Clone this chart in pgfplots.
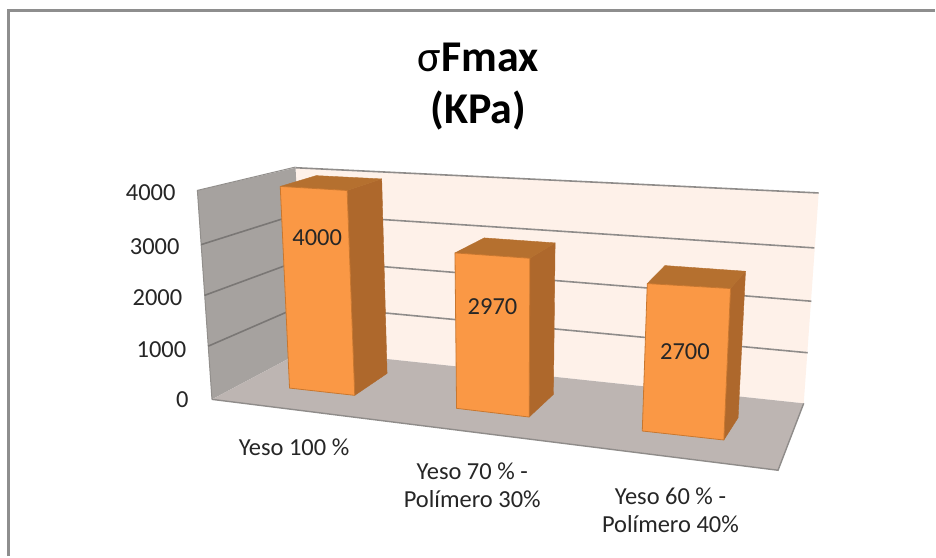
\documentclass[border=0pt]{standalone}
\usepackage{pgfplots}
\pgfplotsset{compat=1.18}
\usepackage{pgfplotstable}
\usepackage{fontspec}
\setmainfont{Carlito}

\definecolor{barfront}{HTML}{FA9845}
\definecolor{barside}{HTML}{AE682C}
\definecolor{bartop}{HTML}{B5702F}
\definecolor{baredge}{HTML}{C8772F}
\definecolor{wallleft}{HTML}{A6A29F}
\definecolor{wallback}{HTML}{FEF1E9}
\definecolor{floorfill}{HTML}{BDB5B2}
\definecolor{gridline}{HTML}{8F8C8A}
\definecolor{framegray}{HTML}{8E8E8E}
\definecolor{labelink}{HTML}{262626}

% Every corner is given by its screen column, its floor row, its height in kPa
% and the height scale that holds at that corner of the 3-D view.
\pgfplotstableread{
px    base  kPa  k
212.3 400   0    0.0523
197.7 400   4000 0.0523
296   350.8 4000 0.0457
305   350.8 0    0.0457
}\wallLeft
\pgfplotstableread{
px    base  kPa  k
305   350.8 0    0.0457
296   350.8 4000 0.0457
820   404   4000 0.05268
805   404   0    0.05268
}\wallBack
\pgfplotstableread{
px    base  kPa  k
212.3 400   0    0.0523
305   350.8 0    0.0457
805   404   0    0.05268
779.3 471   0    0.0560
}\floorPlane

% Yeso 100 %
\pgfplotstableread{
px    base  kPa  k
290   388.7 0    0.0505
355.3 396   0    0.0513
347.7 396   4000 0.0513
280.7 388.7 4000 0.0505
}\barAfront
\pgfplotstableread{
px    base  kPa  k
355.3 396   0    0.0513
387.7 374   0    0.0487
382.3 374   4000 0.0487
347.7 396   4000 0.0513
}\barAside
\pgfplotstableread{
px    base  kPa  k
280.7 388.7 4000 0.0505
347.7 396   4000 0.0513
382.3 374   4000 0.0487
316.7 370.7 4000 0.0487
}\barAtop

% Yeso 70 % - Polimero 30 %
\pgfplotstableread{
px    base  kPa  k
457.3 409   0    0.05242
530   417.7 0    0.05354
530.7 417.7 2970 0.05354
455.7 409   2970 0.05242
}\barBfront
\pgfplotstableread{
px    base  kPa  k
530   417.7 0    0.05354
554.3 395   0    0.05108
556   395   2970 0.05108
530.7 417.7 2970 0.05354
}\barBside
\pgfplotstableread{
px    base  kPa  k
455.7 409   2970 0.05242
530.7 417.7 2970 0.05354
556   395   2970 0.05108
485   390   2970 0.05108
}\barBtop

% Yeso 60 % - Polimero 40 %
\pgfplotstableread{
px    base  kPa  k
643.3 431.7 0    0.0547
725   440.7 0    0.05619
731.7 440.7 2700 0.05619
648.3 431.7 2700 0.0547
}\barCfront
\pgfplotstableread{
px    base  kPa  k
725   440.7 0    0.05619
739.3 418.3 0    0.0543
746.7 418.3 2700 0.0543
731.7 440.7 2700 0.05619
}\barCside
\pgfplotstableread{
px    base  kPa  k
648.3 431.7 2700 0.0547
731.7 440.7 2700 0.05619
746.7 418.3 2700 0.0543
666   412.6 2700 0.0543
}\barCtop

% Gridlines on the back wall and on the side wall
\pgfplotstableread{
px    base  kPa  k
298.5 350.8 3000 0.0455
815.7 404   3000 0.0519
}\backThree
\pgfplotstableread{
px    base  kPa  k
301   350.8 2000 0.0452
812.7 404   2000 0.05115
}\backTwo
\pgfplotstableread{
px    base  kPa  k
303   350.8 1000 0.0451
809   404   1000 0.0507
}\backOne
\pgfplotstableread{
px    base  kPa  k
296   350.8 4000 0.0457
820   404   4000 0.05268
}\backFour
\pgfplotstableread{
px    base  kPa  k
201.5 400   3000 0.05167
298.5 350.8 3000 0.0455
}\sideThree
\pgfplotstableread{
px    base  kPa  k
205   400   2000 0.0521
301   350.8 2000 0.0452
}\sideTwo
\pgfplotstableread{
px    base  kPa  k
208.6 400   1000 0.0533
303   350.8 1000 0.0451
}\sideOne

\pgfplotsset{
  /pgfplots/table/view corners/.style={
    /pgfplots/table/x=px,
    /pgfplots/table/y expr=\thisrow{base}-\thisrow{kPa}*\thisrow{k},
  },
  face/.style={no markers, line join=round},
  wall grid/.style={no markers, draw=gridline, line width=1.6pt},
}

\begin{document}
\begin{tikzpicture}
\begin{axis}[
  scale only axis, width=936pt, height=557pt,
  xmin=0, xmax=936, ymin=0, ymax=557, y dir=reverse,
  axis lines=none, clip=false,
]
  % page background, which also fixes the extent of the picture
  \fill[white] (axis cs:0,0) rectangle (axis cs:936,557);

  % chart area outline
  \addplot[no markers, draw=framegray, line width=3pt] coordinates {(9,557) (9,11) (936,11)};

  % walls and floor
  \addplot[face, fill=wallback, draw=none] table[view corners] {\wallBack} -- cycle;
  \addplot[face, fill=wallleft, draw=none] table[view corners] {\wallLeft} -- cycle;
  \addplot[face, fill=floorfill, draw=none] table[view corners] {\floorPlane} -- cycle;
  \addplot[no markers, draw=gridline, line width=1.4pt] coordinates {(212.3,400) (779.3,471) (805,404)};
  \addplot[no markers, draw=wallleft!88!black, line width=1pt] coordinates {(212.3,400) (197.7,190.7) (296,167.3)};

  % gridlines
  \addplot[wall grid] table[view corners] {\backFour};
  \addplot[wall grid] table[view corners] {\backThree};
  \addplot[wall grid] table[view corners] {\backTwo};
  \addplot[wall grid] table[view corners] {\backOne};
  \addplot[wall grid, draw=gridline!85!black] table[view corners] {\sideThree};
  \addplot[wall grid, draw=gridline!85!black] table[view corners] {\sideTwo};
  \addplot[wall grid, draw=gridline!85!black] table[view corners] {\sideOne};

  % bars
  \addplot[face, fill=barside, draw=barside] table[view corners] {\barAside} -- cycle;
  \addplot[face, fill=bartop, draw=bartop] table[view corners] {\barAtop} -- cycle;
  \addplot[face, fill=barfront, draw=baredge, line width=0.8pt] table[view corners] {\barAfront} -- cycle;
  \addplot[face, fill=barside, draw=barside] table[view corners] {\barBside} -- cycle;
  \addplot[face, fill=bartop, draw=bartop] table[view corners] {\barBtop} -- cycle;
  \addplot[face, fill=barfront, draw=baredge, line width=0.8pt] table[view corners] {\barBfront} -- cycle;
  \addplot[face, fill=barside, draw=barside] table[view corners] {\barCside} -- cycle;
  \addplot[face, fill=bartop, draw=bartop] table[view corners] {\barCtop} -- cycle;
  \addplot[face, fill=barfront, draw=baredge, line width=0.8pt] table[view corners] {\barCfront} -- cycle;

  % bar values
  \begin{scope}[every node/.style={font=\fontsize{24.5}{28.5}\selectfont, text=labelink, inner sep=0pt}]
    \node at (axis cs:317.7,238) {4000};
    \node at (axis cs:493.3,307.3) {2970};
    \node at (axis cs:686,352.7) {2700};
    % value axis
    \node[anchor=east] at (axis cs:176,192.7) {4000};
    \node[anchor=east] at (axis cs:180,246.7) {3000};
    \node[anchor=east] at (axis cs:182.7,298) {2000};
    \node[anchor=east] at (axis cs:186.7,350) {1000};
    \node[anchor=east] at (axis cs:189,400.7) {0};
    % categories
    \node at (axis cs:294.5,448) {Yeso 100 \%};
    \node[align=center] at (axis cs:473,486) {Yeso 70 \% -\\Polímero 30\%};
    \node[align=center] at (axis cs:671.5,511) {Yeso 60 \% -\\Polímero 40\%};
    % title
    \node[align=center, font=\fontsize{44}{52}\selectfont\bfseries, text=black] at (axis cs:479,87) {{\mdseries σ}Fmax\\(KPa)};
  \end{scope}
\end{axis}
\end{tikzpicture}
\end{document}
